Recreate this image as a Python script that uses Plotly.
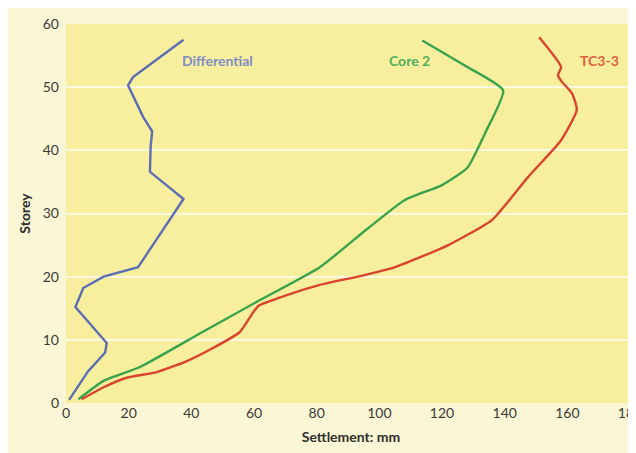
import plotly.graph_objects as go

# Differential settlement profile
diff_x = [1, 7, 12.5, 13, 3, 5.5, 12, 23, 37.5, 26.8, 27, 27.5, 24.6, 19.8, 21.4, 37.5]
diff_y = [0.5, 5, 8, 9.5, 15.2, 18.2, 20, 21.5, 32.3, 36.6, 40.5, 43, 45.3, 50.3, 51.6, 57.5]

# Core 2 settlement profile
core_x = [4, 12, 23.6, 42.7, 60.8, 81, 96, 108, 120, 128, 134, 139.5, 127, 113.7]
core_y = [0.6, 3.5, 5.7, 11, 16, 21.5, 27.5, 32.1, 34.5, 37.2, 43, 49.5, 53.5, 57.4]

# TC3-3 settlement profile
tc_x = [5, 12, 19.4, 29, 38, 46.9, 55.4, 60.2, 61.8, 70, 81, 95, 105, 122, 136, 147.5, 158, 163, 161.5, 158, 157, 158, 151]
tc_y = [0.6, 2.5, 4, 4.9, 6.5, 8.7, 11.2, 14.7, 15.5, 17, 18.7, 20.2, 21.5, 25, 29, 35.8, 41.6, 46.4, 49, 51, 51.9, 53.2, 57.9]

x_ticks = [0, 20, 40, 60, 80, 100, 120, 140, 160, 180]
y_ticks = [0, 10, 20, 30, 40, 50, 60]

series_names = ["Differential", "Core 2", "TC3-3"]
label_x = [36.5, 102.5, 163.5]
label_y = [54.2, 54.2, 54.2]

line_colors = ["#5b6db3", "#3aa24a", "#d8452c"]
label_colors = ["#7f8cc6", "#4fae5c", "#e0603f"]
line_shapes = ["linear", "spline", "spline"]

fig = go.Figure()
for xs, ys, c, n, s in zip([diff_x, core_x, tc_x], [diff_y, core_y, tc_y], line_colors, series_names, line_shapes):
    fig.add_trace(go.Scatter(x=xs, y=ys, mode="lines", name=n,
                             line=dict(color=c, width=2.4, shape=s, smoothing=0.5),
                             showlegend=False))

for n, lx, ly, c in zip(series_names, label_x, label_y, label_colors):
    fig.add_annotation(x=lx, y=ly, text="<b>" + n + "</b>", showarrow=False,
                       xanchor="left", yanchor="middle",
                       font=dict(family="Lato, sans-serif", size=14, color=c))

fig.update_layout(
    width=636, height=453,
    margin=dict(l=58, r=8, t=16, b=58),
    paper_bgcolor="#fbf6d6",
    plot_bgcolor="#f7ef9e",
    font=dict(family="Lato, sans-serif", color="#3a3a36"),
)
fig.update_xaxes(range=[0, 181.9], tickvals=x_ticks, ticktext=[str(v) for v in x_ticks],
                 showgrid=False, zeroline=False, showline=False, ticks="", automargin=False,
                 tickfont=dict(size=14, color="#3a3a36", family="Lato, sans-serif"),
                 title=dict(text="<b>Settlement: mm</b>", font=dict(size=14, color="#2e2e2a"), standoff=12))
fig.update_yaxes(range=[0, 60], tickvals=y_ticks, ticktext=[str(v) for v in y_ticks],
                 showgrid=True, gridcolor="#fdf8e2", gridwidth=2.2, automargin=False,
                 zeroline=False, showline=False, ticks="", ticklabelstandoff=6,
                 tickfont=dict(size=14, color="#3a3a36", family="Lato, sans-serif"),
                 title=dict(text="<b>Storey</b>", font=dict(size=14, color="#2e2e2a"), standoff=8))

fig.write_html("out.html")
